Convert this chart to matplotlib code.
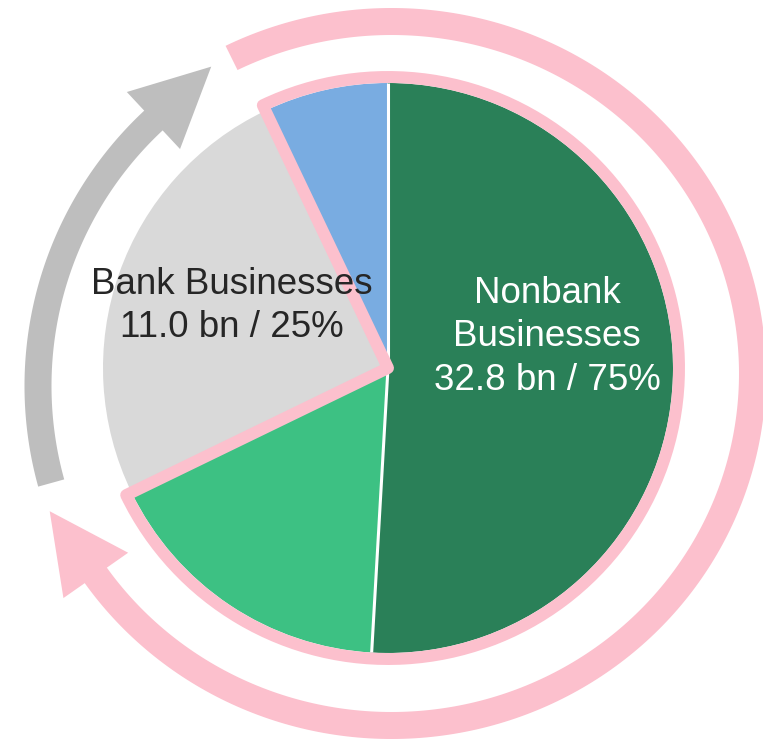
import numpy as np
import matplotlib
matplotlib.use("Agg")
import matplotlib.pyplot as plt
from matplotlib.patches import Wedge, Polygon

# ---- data (bn) ----
segments = ["Nonbank A", "Nonbank B", "Bank Businesses", "Nonbank C"]
values = [22.3, 7.4, 11.0, 3.1]
colors = ["#2a8058", "#3dc183", "#d9d9d9", "#79ace1"]
bank_label = "Bank Businesses\n11.0 bn / 25%"
nonbank_label = "Nonbank\nBusinesses\n32.8 bn / 75%"

W, H = 763, 739
PINK = "#fcc0cd"
GRAY_ARROW = "#bebebe"

fig = plt.figure(figsize=(W / 100, H / 100), dpi=100)
ax = fig.add_axes([0, 0, 1, 1])

def py(y):
    return H - y

cx, cy = 388, py(368)
R = 285

wedges, _ = ax.pie(values, colors=colors, startangle=90, counterclock=False,
                   radius=R, center=(cx, cy), wedgeprops=dict(linewidth=0))

# boundary angles
total = sum(values)
angs = [90.0]
for v in values:
    angs.append(angs[-1] - 360.0 * v / total)

# white separators between nonbank slices
for a in [angs[0], angs[1]]:
    t = np.deg2rad(a)
    ax.plot([cx, cx + R * np.cos(t)], [cy, cy + R * np.sin(t)], color="white",
            lw=2.2, solid_capstyle="butt", zorder=3)

# pink outline around nonbank group
theta1 = angs[2]
theta2 = angs[3] + 360.0
outline = Wedge((cx, cy), R + 6, theta1, theta2, fill=False, edgecolor=PINK,
                linewidth=8.6, joinstyle="round", zorder=4)
ax.add_patch(outline)

def arc_arrow(pcx, pcy, rx, ry, width, t_start, t_base, head_w, head_l, color):
    # pixel coordinates, y down; t decreasing from t_start to t_base
    ts = np.deg2rad(np.linspace(t_start, t_base, 300))
    rxo, ryo = rx + width / 2, ry + width / 2
    rxi, ryi = rx - width / 2, ry - width / 2
    outer = [(pcx + rxo * np.cos(t), pcy - ryo * np.sin(t)) for t in ts]
    inner = [(pcx + rxi * np.cos(t), pcy - ryi * np.sin(t)) for t in ts[::-1]]
    tb = ts[-1]
    mx, my = pcx + rx * np.cos(tb), pcy - ry * np.sin(tb)
    d = np.array([rx * np.sin(tb), ry * np.cos(tb)])
    d = d / np.linalg.norm(d)
    n = np.array([np.cos(tb), -np.sin(tb)])
    o_corner = (mx + n[0] * head_w / 2, my + n[1] * head_w / 2)
    i_corner = (mx - n[0] * head_w / 2, my - n[1] * head_w / 2)
    tip = (mx + d[0] * head_l, my + d[1] * head_l)
    pts = outer + [o_corner, tip, i_corner] + inner
    pts = [(x, py(y)) for x, y in pts]
    ax.add_patch(Polygon(pts, closed=True, facecolor=color, edgecolor="none", zorder=2))

# pink outer arrow (clockwise around right side)
arc_arrow(391.5, 373.5, 361, 352, 27, 116.3, -145.0, 79, 79, PINK)
# gray arrow (up the left side)
arc_arrow(401, 386, 363, 363, 27, 195.5, 133.0, 78, 79, GRAY_ARROW)

font = ["Liberation Sans", "Arial", "DejaVu Sans"]
ax.text(232, py(306), bank_label, ha="center", va="center", fontsize=26.5,
        color="#262626", family=font, linespacing=1.3, zorder=5)
ax.text(547, py(337), nonbank_label, ha="center", va="center", fontsize=26.5,
        color="white", family=font, linespacing=1.3, zorder=5)

ax.set_xlim(0, W)
ax.set_ylim(0, H)
ax.set_aspect("equal")
ax.axis("off")
fig.savefig("out.png", dpi=100)
